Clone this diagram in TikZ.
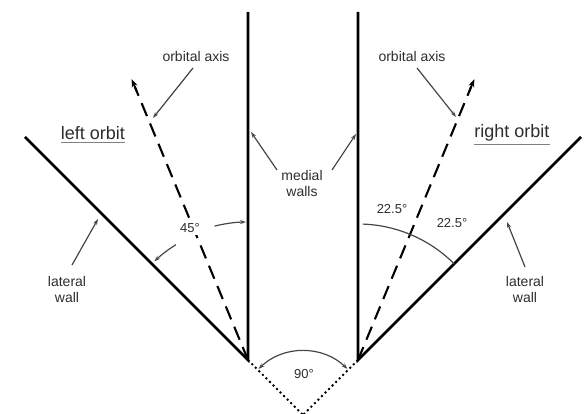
\documentclass[tikz,border=0pt]{standalone}
\usepackage{fontspec}
\setmainfont{Liberation Sans}
\usetikzlibrary{arrows.meta,calc}
\definecolor{txt}{RGB}{45,45,45}
\definecolor{arr}{RGB}{70,70,70}
\tikzset{
  wall/.style={line width=2.8pt, black},
  axisline/.style={line width=2.1pt, black, dash pattern=on 14pt off 8pt},
  dotline/.style={line width=1.8pt, black, dash pattern=on 2pt off 3pt},
  pointer/.style={line width=1.2pt, arr, -{Stealth[length=6pt,width=4pt]}},
  anglearc/.style={line width=1.2pt, arr},
  lbl/.style={text=txt, font=\fontsize{14}{16}\selectfont, align=center, inner sep=0pt},
  deg/.style={text=txt, font=\fontsize{13}{15}\selectfont, inner sep=0pt},
  orbit/.style={text=txt, font=\fontsize{18}{20}\selectfont, inner sep=0pt},
}
\begin{document}
\begin{tikzpicture}[x=1pt,y=1pt]
\useasboundingbox (0,0) rectangle (585,414);
% key points
\coordinate (LV) at (248,54);
\coordinate (RV) at (358,54);
\coordinate (AP) at (303,-1);
\coordinate (LMtop) at (248,402);
\coordinate (RMtop) at (358,402);
\coordinate (LLend) at (25,277);
\coordinate (RLend) at (581,277);
% walls
\draw[wall] (LMtop) -- (LV) -- (LLend);
\draw[wall] (RMtop) -- (RV) -- (RLend);
% dotted lines to apex
\draw[dotline] (LV) -- (AP);
\draw[dotline] (RV) -- (AP);
% orbital axes
\draw[axisline] (LV) -- ++(112.5:296) coordinate (LAend);
\draw[line width=1.8pt, -{Stealth[length=8pt,width=6pt]}] ($(LV)+(112.5:290)$) -- ($(LV)+(112.5:304)$);
\draw[axisline] (RV) -- ++(67.5:296) coordinate (RAend);
\draw[line width=1.8pt, -{Stealth[length=8pt,width=6pt]}] ($(RV)+(67.5:290)$) -- ($(RV)+(67.5:304)$);
% labels
\node[lbl] (oaL) at (196,357) {orbital axis};
\node[lbl] (oaR) at (412,357) {orbital axis};
\node[orbit] (lo) at (93,281) {left orbit};
\node[orbit] (ro) at (512,281) {right orbit};
\draw[line width=1pt, gray] ([yshift=-3pt]lo.south west) -- ([yshift=-3pt]lo.south east);
\draw[line width=1pt, gray] ([yshift=-3pt]ro.south west) -- ([yshift=-3pt]ro.south east);
\node[lbl] (mw) at (302,230) {medial\\walls};
\node[lbl] (lwL) at (67,125) {lateral\\wall};
\node[lbl] (lwR) at (525,125) {lateral\\wall};
\node[deg, fill=white, inner sep=2pt] (d45) at (190,186) {45°};
\node[deg] (d22a) at (392,205) {22.5°};
\node[deg] (d22b) at (452,191) {22.5°};
\node[deg] (d90) at (304,40) {90°};
% pointer arrows
\coordinate (oaLs) at (193,346); \coordinate (oaLe) at (153,296);
\coordinate (oaRs) at (417,346); \coordinate (oaRe) at (456,297);
\coordinate (mwLs) at (277,244); \coordinate (mwLe) at (251,282);
\coordinate (mwRs) at (332,244); \coordinate (mwRe) at (356,280);
\coordinate (lwLs) at (72,149); \coordinate (lwLe) at (98,195);
\coordinate (lwRs) at (525,147); \coordinate (lwRe) at (507,192);
\draw[pointer] (oaLs) -- (oaLe);
\draw[pointer] (oaRs) -- (oaRe);
\draw[pointer] (mwLs) -- (mwLe);
\draw[pointer] (mwRs) -- (mwRe);
\draw[pointer] (lwLs) -- (lwLe);
\draw[pointer] (lwRs) -- (lwRe);
% angle arcs
\draw[anglearc, -{Stealth[length=6pt,width=4pt]}] (LV) ++(122:136) arc[start angle=122, end angle=133.5, radius=136];
\draw[anglearc, -{Stealth[length=6pt,width=4pt]}] (LV) ++(104:138) arc[start angle=104, end angle=90.8, radius=138];
\draw[anglearc] (RV) ++(88:136) arc[start angle=88, end angle=45, radius=136];
\draw[anglearc, {Stealth[length=6pt,width=4pt]}-{Stealth[length=6pt,width=4pt]}] (AP) ++(134:64) arc[start angle=134, end angle=46, radius=64];
\end{tikzpicture}
\end{document}
